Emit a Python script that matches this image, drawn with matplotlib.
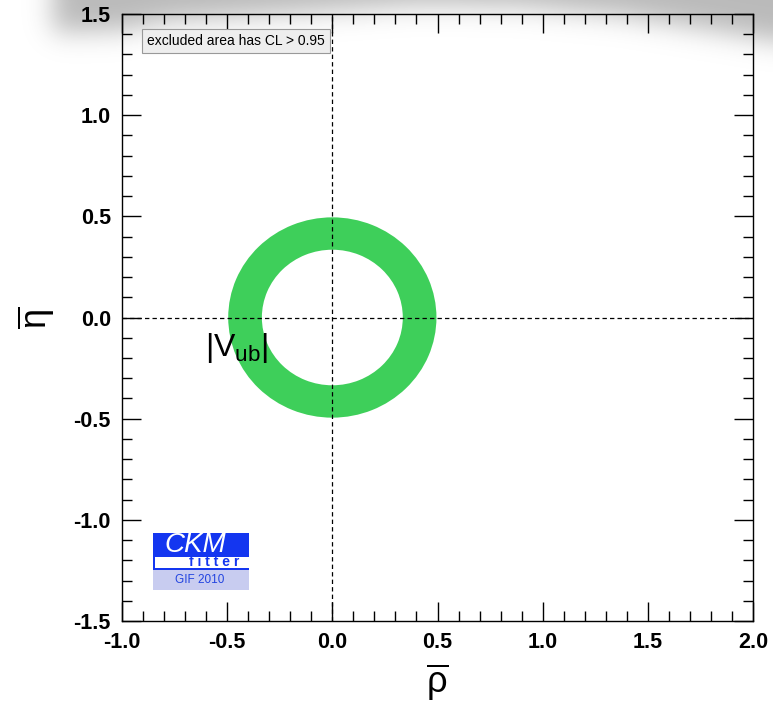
import numpy as np
import matplotlib.pyplot as plt
from matplotlib.patches import Wedge, Rectangle
from matplotlib.ticker import MultipleLocator, FormatStrFormatter

plt.rcParams['font.family'] = ['Liberation Sans', 'DejaVu Sans']
plt.rcParams['mathtext.fontset'] = 'custom'
plt.rcParams['mathtext.rm'] = 'Liberation Sans'
plt.rcParams['mathtext.it'] = 'Liberation Sans:italic'
plt.rcParams['mathtext.bf'] = 'Liberation Sans:bold'
plt.rcParams['axes.unicode_minus'] = False

# |Vub| constraint: ring around the origin of the (rho, eta) plane
ring_center = (0.0, 0.0)
ring_r_inner = 0.335
ring_r_outer = 0.495
ring_label = r'$|\mathrm{V}_{\mathrm{ub}}|$'

x_range = (-1.0, 2.0)
y_range = (-1.5, 1.5)
major_step = 0.5
minor_step = 0.1

cl_text = 'excluded area has CL > 0.95'
logo_name = 'CKM'
logo_sub = 'f i t t e r'
logo_year = 'GIF 2010'

W, H, DPI = 773, 704, 100
fig = plt.figure(figsize=(W / DPI, H / DPI), dpi=DPI)

# soft grey shadow along the top edge of the page
pad = 60
hh = 80
yy, xx = np.mgrid[-pad:hh + pad, -pad:W + pad]
edge_x = [0, 55, 120, 170, 300, 420, 520, 620, 700, 773, 830]
edge_y = [32, 32, 30, 20, 12, 4, 6, 15, 28, 40, 46]
yb = np.interp(xx, edge_x, edge_y)
mask = ((yy < yb) & (xx > 52)).astype(float)
kern = np.exp(-0.5 * (np.arange(-45, 46) / 13.0) ** 2)
kern /= kern.sum()
mask = np.apply_along_axis(lambda r: np.convolve(r, kern, mode='same'), 1, mask)
mask = np.apply_along_axis(lambda c: np.convolve(c, kern, mode='same'), 0, mask)
mask = mask[pad:pad + hh, pad:pad + W]
shadow = np.zeros((hh, W, 4))
shadow[..., :3] = 0.55
shadow[..., 3] = 0.6 * mask
fig.figimage(shadow, xo=0, yo=H - hh, origin='upper', zorder=-1)

ax = fig.add_axes([122 / W, 83 / H, 631 / W, 607 / H])
ax.set_facecolor('none')
ax.set_xlim(x_range)
ax.set_ylim(y_range)

ring = Wedge(ring_center, ring_r_outer, 0, 360, width=ring_r_outer - ring_r_inner,
             facecolor='#3ecf5a', edgecolor='none', zorder=1)
ax.add_patch(ring)
ax.axhline(0, color='black', lw=0.9, dashes=(3.5, 2.5), zorder=2)
ax.axvline(0, color='black', lw=0.9, dashes=(3.5, 2.5), zorder=2)

ax.text(-0.605, -0.188, ring_label, fontsize=23, va='baseline', ha='left', zorder=3)

for axis in (ax.xaxis, ax.yaxis):
    axis.set_major_locator(MultipleLocator(major_step))
    axis.set_minor_locator(MultipleLocator(minor_step))
    axis.set_major_formatter(FormatStrFormatter('%.1f'))
ax.tick_params(which='both', direction='in', top=True, right=True, width=1)
ax.tick_params(which='major', length=13.5, labelsize=15.5, pad=8)
ax.tick_params(which='minor', length=7)
for lab in ax.get_xticklabels() + ax.get_yticklabels():
    lab.set_fontweight('bold')
for sp in ax.spines.values():
    sp.set_linewidth(1)

ax.set_xlabel(r'$\overline{\mathrm{ρ}}$', fontsize=26, labelpad=6)
ax.set_ylabel(r'$\overline{\mathrm{η}}$', fontsize=26, labelpad=12)

fig.text(147 / W, 1 - 41 / H, cl_text, fontsize=10, va='center', ha='left',
         bbox=dict(boxstyle='square,pad=0.35', fc='#eeeeee', ec='#999999', lw=0.8))

# CKMfitter logo, drawn in a small pixel-scaled axes
lg = fig.add_axes([153 / W, (H - 590) / H, 96 / W, 57 / H])
lg.set_xlim(0, 96)
lg.set_ylim(0, 57)
lg.axis('off')
blue = '#1436f0'
lg.add_patch(Rectangle((0, 0), 96, 20, color='#c8ccf0', lw=0))
lg.add_patch(Rectangle((0, 20), 96, 37, color=blue, lw=0))
lg.add_patch(Rectangle((2, 22.5), 94, 11, color='white', lw=0))
lg.text(11, 38, logo_name, fontsize=20, style='italic', color='white', va='baseline')
lg.text(86, 24, logo_sub, fontsize=10, fontweight='bold', color=blue,
        ha='right', va='baseline')
lg.text(47, 10, logo_year, fontsize=8.5, color='#2244e0', ha='center', va='center')

fig.savefig('out.png', dpi=DPI)
